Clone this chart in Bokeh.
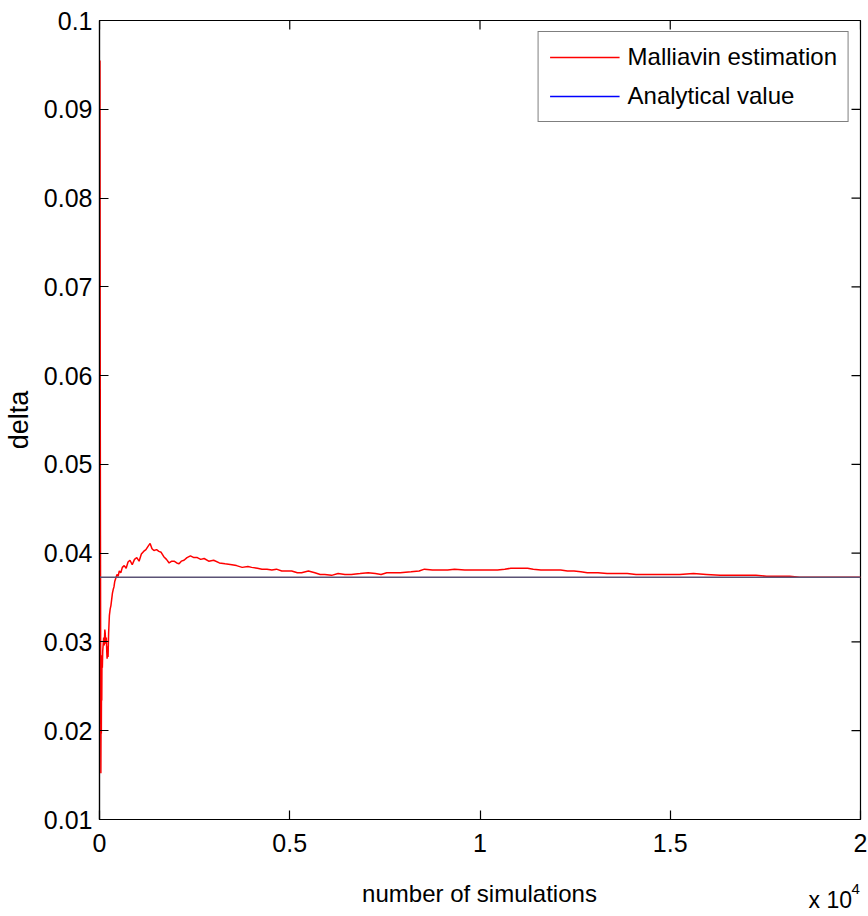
import math
from bokeh.plotting import figure
from bokeh.models import FixedTicker, Range1d, Label, Legend, LegendItem
from bokeh.embed import file_html
from bokeh.resources import INLINE

# ---- data ----
n_sim = [12, 16, 20, 25, 30, 36, 42, 48, 54, 60, 66, 75, 85, 110, 125, 140, 150, 165, 180, 190,
         200, 215, 225, 240, 260, 280, 300, 320, 340, 360, 380, 400, 430, 460, 490, 520, 560,
         600, 650, 700, 750, 800, 860, 920, 980, 1040, 1100, 1160, 1220, 1280, 1330, 1380,
         1430, 1500, 1560, 1620, 1690, 1760, 1830, 1900, 1960, 2030, 2090, 2150, 2220, 2300,
         2390, 2480, 2570, 2660, 2750, 2870, 3000, 3150, 3300, 3480, 3600, 3750, 3900, 4000,
         4150, 4270, 4400, 4530, 4650, 4790, 4900, 5050, 5200, 5310, 5490, 5660, 5800, 5920,
         6100, 6270, 6450, 6620, 6850, 7060, 7250, 7400, 7550, 7670, 7900, 8190, 8400, 8540,
         8750, 8980, 9150, 9330, 9600, 9850, 10150, 10460, 10650, 10810, 11050, 11250, 11400,
         11600, 11850, 12120, 12300, 12470, 12650, 12820, 13100, 13340, 13600, 13870, 14100,
         14390, 14650, 14910, 15250, 15610, 15950, 16310, 16650, 17010, 17250, 17530, 17850,
         18140, 18400, 18700, 19000, 19300, 19600, 20000]
malliavin = [0.0955, 0.0720, 0.0560, 0.0420, 0.0300, 0.0152, 0.0230, 0.0197, 0.0262, 0.0234,
             0.0285, 0.0271, 0.0290, 0.0305, 0.0296, 0.0314, 0.0310, 0.0298, 0.0305, 0.0290,
             0.0281, 0.0295, 0.0283, 0.0310, 0.0330, 0.0337, 0.0341, 0.0348, 0.0355, 0.0359,
             0.0362, 0.0368, 0.0372, 0.0376, 0.0374, 0.0380, 0.0378, 0.0384, 0.0386, 0.0383,
             0.0390, 0.0392, 0.0387, 0.0393, 0.0395, 0.0391, 0.0399, 0.0402, 0.0404, 0.0408,
             0.0411, 0.0405, 0.0403, 0.0404, 0.0402, 0.0401, 0.0396, 0.0393, 0.0389, 0.0391,
             0.0391, 0.0389, 0.0388, 0.0391, 0.0392, 0.0395, 0.0397, 0.0395, 0.0395, 0.0393,
             0.0394, 0.0391, 0.0392, 0.0389, 0.0388, 0.0387, 0.0386, 0.0384, 0.0385, 0.0384,
             0.0383, 0.0382, 0.0382, 0.0381, 0.0382, 0.0380, 0.0380, 0.0380, 0.0378, 0.0378,
             0.0380, 0.0378, 0.0376, 0.0376, 0.0375, 0.0377, 0.0376, 0.0376, 0.0377, 0.0378,
             0.0377, 0.0376, 0.0378, 0.0378, 0.0378, 0.0379, 0.0380, 0.0382, 0.0381, 0.0381,
             0.0381, 0.0382, 0.0381, 0.0381, 0.0381, 0.0381, 0.0382, 0.0383, 0.0383, 0.0383,
             0.0382, 0.0381, 0.0381, 0.0381, 0.0380, 0.0380, 0.0379, 0.0378, 0.0378, 0.0377,
             0.0377, 0.0377, 0.0376, 0.0376, 0.0376, 0.0376, 0.0376, 0.0377, 0.0376, 0.0375,
             0.0375, 0.0375, 0.0375, 0.0374, 0.0374, 0.0374, 0.0373, 0.0373, 0.0373, 0.0373,
             0.0373, 0.0373]
analytical_value = 0.0373
x_extent = [0, 20000]
y_extent = [0.01, 0.1]

y_ticks = [0.01, 0.02, 0.03, 0.04, 0.05, 0.06, 0.07, 0.08, 0.09, 0.1]
y_tick_labels = ["0.01", "0.02", "0.03", "0.04", "0.05", "0.06", "0.07", "0.08", "0.09", "0.1"]
x_ticks = [0, 5000, 10000, 15000, 20000]
x_tick_labels = ["0", "0.5", "1", "1.5", "2"]
x_title = "number of simulations"
x_scale_note = ["x 10", "4"]

FONT = "Liberation Sans"

p = figure(width=868, height=916, output_backend="svg", toolbar_location=None,
           x_range=Range1d(*x_extent), y_range=Range1d(*y_extent),
           min_border_left=97, min_border_right=8, min_border_top=20, min_border_bottom=97)
p.grid.visible = False
p.background_fill_color = "white"
p.border_fill_color = "white"
p.outline_line_color = "black"
p.outline_line_width = 1.2

red_r = p.line(n_sim, malliavin, line_color="red", line_width=1.5)
p.line(x_extent, [analytical_value, analytical_value], line_color="#5a5275", line_width=1.5)
blue_leg = p.line(x_extent, [analytical_value, analytical_value], line_color="blue",
                  line_width=1.5, visible=False)

# inward ticks on the top and right edges of the box (half of each dash is clipped by the frame)
p.scatter(x_ticks, [y_extent[1]] * len(x_ticks), marker="dash", size=18, angle=math.pi / 2,
          line_color="black", line_width=1.2)
p.scatter([x_extent[1]] * len(y_ticks), y_ticks, marker="dash", size=18,
          line_color="black", line_width=1.2)

for ax in (p.xaxis[0], p.yaxis[0]):
    ax.major_tick_in = 9
    ax.major_tick_out = 0
    ax.minor_tick_in = 0
    ax.minor_tick_out = 0
    ax.axis_line_color = "black"
    ax.axis_line_width = 1.2
    ax.major_tick_line_width = 1.2
    ax.major_label_text_font = FONT
    ax.major_label_text_font_size = "25px"
    ax.major_label_text_color = "black"

p.xaxis[0].ticker = FixedTicker(ticks=x_ticks)
p.xaxis[0].major_label_overrides = {t: s for t, s in zip(x_ticks, x_tick_labels)}
p.xaxis[0].major_label_standoff = 14

p.yaxis[0].ticker = FixedTicker(ticks=y_ticks)
p.yaxis[0].major_label_overrides = {t: s for t, s in zip(y_ticks, y_tick_labels)}
p.yaxis[0].major_label_standoff = 7
p.yaxis[0].axis_label = "delta"
p.yaxis[0].axis_label_text_font = FONT
p.yaxis[0].axis_label_text_font_size = "27px"
p.yaxis[0].axis_label_text_font_style = "normal"
p.yaxis[0].axis_label_text_color = "black"
p.yaxis[0].axis_label_standoff = 7

legend = Legend(items=[LegendItem(label="Malliavin estimation", renderers=[red_r]),
                       LegendItem(label="Analytical value", renderers=[blue_leg])],
                location="top_right", margin=11, padding=11, spacing=11,
                glyph_width=70, glyph_height=28, label_height=28, label_standoff=8,
                label_text_font=FONT, label_text_font_size="24px", label_text_color="black",
                border_line_color="black", border_line_width=1.2,
                background_fill_color="white", background_fill_alpha=1.0)
p.add_layout(legend, "center")

# x-axis title and exponent note, placed in canvas pixels inside side panels (not clipped)
p.add_layout(Label(x=479, y=893, x_units="canvas", y_units="canvas", text=x_title,
                   text_font=FONT, text_font_size="24px", text_color="black",
                   text_baseline="middle", text_align="center"), "below")
p.add_layout(Label(x=808, y=899, x_units="canvas", y_units="canvas", text=x_scale_note[0],
                   text_font=FONT, text_font_size="23px", text_color="black",
                   text_baseline="middle", text_align="left"), "below")
p.add_layout(Label(x=851, y=888, x_units="canvas", y_units="canvas", text=x_scale_note[1],
                   text_font=FONT, text_font_size="15px", text_color="black",
                   text_baseline="middle", text_align="left"), "above")

open("out.html", "w").write(file_html(p, INLINE))
